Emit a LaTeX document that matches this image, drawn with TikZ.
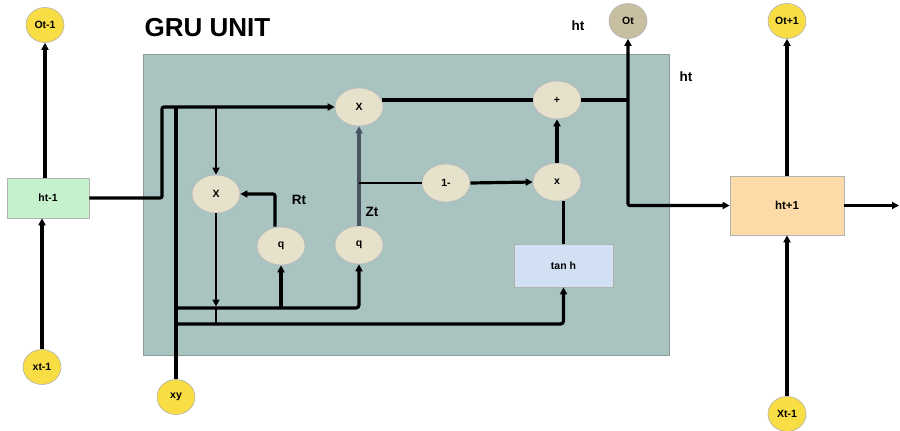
\documentclass[tikz,border=0pt]{standalone}
\usepackage{fontspec}
\setmainfont{Liberation Sans}
\usetikzlibrary{arrows.meta,shapes.geometric}
\definecolor{panelfill}{HTML}{A9C3C0}
\definecolor{panelline}{HTML}{8C9C9A}
\definecolor{opfill}{HTML}{E6E1CA}
\definecolor{yelfill}{HTML}{F8DD45}
\definecolor{otfill}{HTML}{C8BFA0}
\definecolor{greenfill}{HTML}{C5F1CC}
\definecolor{bluefill}{HTML}{D1E1F3}
\definecolor{peachfill}{HTML}{FDDBA8}
\definecolor{zwire}{HTML}{4B5262}
\begin{document}
\begin{tikzpicture}[x=1pt,y=-1pt,
  font=\bfseries\fontsize{10.5}{12}\selectfont,
  wire/.style={line width=3.2pt},
  midwire/.style={line width=2.6pt},
  thinwire/.style={line width=1.5pt},
  tip/.style={-{Triangle[length=7pt,width=7pt]}},
  op/.style={ellipse, draw=gray!55, line width=0.6pt, fill=opfill,
    minimum width=48pt, minimum height=38pt, inner sep=0pt},
  term/.style={ellipse, draw=gray!60, line width=0.6pt, fill=yelfill,
    minimum width=38pt, minimum height=35pt, inner sep=0pt},
  cellbox/.style={rectangle, draw=gray!60, line width=0.6pt, inner sep=0pt},
  lbl/.style={font=\bfseries\fontsize{13.5}{15}\selectfont}]

\useasboundingbox (0,0) rectangle (900,431);

% GRU cell panel and title
\node[rectangle, draw=panelline, line width=0.8pt, fill=panelfill,
  minimum width=526pt, minimum height=301pt, inner sep=0pt] (unit) at (406,204.5) {};
\node[anchor=west, font=\bfseries\fontsize{26}{30}\selectfont] (title) at (141,28) {GRU UNIT};

% neighbouring time steps
\node[term] (otm) at (45,25) {Ot-1};
\node[cellbox, fill=greenfill, minimum width=82pt, minimum height=40pt] (htm) at (48,198) {ht-1};
\node[term] (xtm) at (42,367) {xt-1};
\node[term] (xy) at (176,397) {xy};
\node[term, fill=otfill] (ot) at (628,21) {Ot};
\node[term] (otp) at (787,21) {Ot+1};
\node[cellbox, fill=peachfill, minimum width=114pt, minimum height=59pt,
  font=\bfseries\fontsize{11.5}{13}\selectfont] (htp) at (787,205.5) {ht+1};
\node[term] (xtp) at (787,414) {Xt-1};

% gate operations
\node[op] (mulA) at (359,107) {X};
\node[op] (mulR) at (216,194) {X};
\node[op] (qr) at (281,246) {q};
\node[op] (qz) at (359,245) {q};
\node[op] (onem) at (446,183) {1-};
\node[op] (mulZ) at (557,182) {x};
\node[op] (plus) at (557,100) {+};
\node[cellbox, fill=bluefill, minimum width=99pt, minimum height=43pt] (tanh) at (563.5,265.5) {tan h};

% labels
\node[lbl] (lhA) at (578,26) {ht};
\node[lbl] (lhB) at (686,77) {ht};
\node[lbl] (lrt) at (299,200) {Rt};
\node[lbl] (lzt) at (372,212) {Zt};

% junction points
\coordinate (bend) at (162,107);
\coordinate (busA) at (176,308);
\coordinate (busB) at (176,324);
\coordinate (hout) at (899,205.5);

% outer connections
\draw[wire,tip] (htm.north -| otm.south) -- (otm.south);
\draw[wire,tip] (xtm.north) -- (xtm.north |- htm.south);
\draw[wire,tip] (htp.north) -- (otp.south);
\draw[wire,tip] (xtp.north) -- (htp.south);
\draw[wire,tip] (htp.east) -- (hout);

% previous hidden state into the cell
\draw[wire,tip,rounded corners=2pt] (htm.east) -| (bend) -- (mulA.west);
\draw[midwire,tip] (bend -| mulR.north) -- (mulR.north);

% input line and its two buses
\draw[wire] (xy.north) -- (xy.north |- bend);
\draw[wire,tip,rounded corners=3pt] (busA) -| (qz.south);
\draw[wire,tip] (busA -| qr.south) -- (qr.south);
\draw[wire,tip,rounded corners=3pt] (busB) -| (tanh.south);
\draw[midwire,tip] (mulR.south) -- ([yshift=1.5pt]busA -| mulR.south);
\draw[midwire] (busA -| mulR.south) -- (busB -| mulR.south);

% reset gate
\draw[wire,tip,rounded corners=2pt] ([xshift=-6pt]qr.north) |- (mulR.east);

% update gate
\draw[wire,zwire,tip] (qz.north) -- (mulA.south);
\draw[thinwire] (qz.north |- onem.west) -- (onem.west);
\draw[wire,tip] (onem.east) -- (mulZ.west);
\draw[wire,tip] (mulZ.north) -- (plus.south);
\draw[wire] (tanh.north) -- (tanh.north |- mulZ.south);
\draw[wire] ([xshift=-1.5pt]plus.west -| mulA.east) -- (plus.west);

% new hidden state
\draw[wire] (plus.east) -- (plus.east -| ot.south);
\draw[wire,{Triangle[length=7pt,width=7pt]}-{Triangle[length=7pt,width=7pt]},rounded corners=2pt]
  (ot.south) |- (htp.west);
\end{tikzpicture}
\end{document}
